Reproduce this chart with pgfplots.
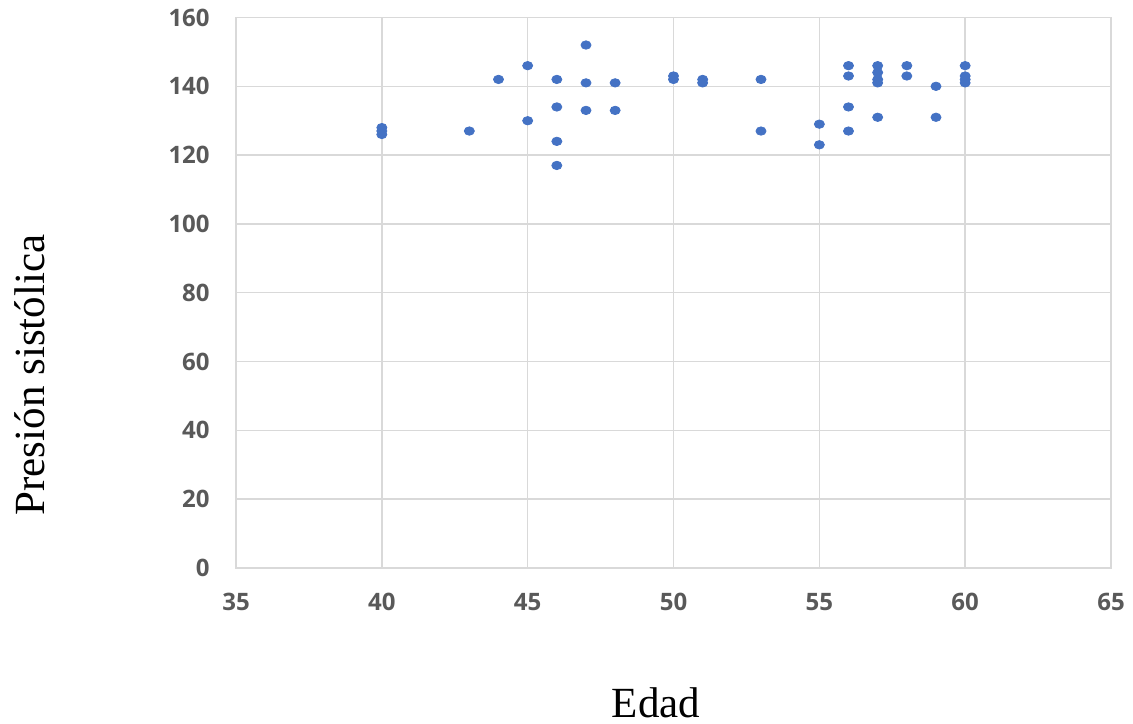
\documentclass[border=0pt]{standalone}
\usepackage{pgfplots}
\pgfplotsset{compat=1.18}
\usepackage{fontspec}
\setmainfont{Liberation Serif}
\newfontfamily\tickfont{Open Sans}
\definecolor{ptblue}{HTML}{4472C4}
\definecolor{gridgray}{HTML}{D9D9D9}
\definecolor{ticktext}{HTML}{595959}
\begin{document}
\begin{tikzpicture}
\useasboundingbox (-118pt,-77.5pt) rectangle (448.5pt,284pt);
\begin{axis}[
  scale only axis,
  width=437.5pt, height=275.25pt,
  xmin=35, xmax=65, ymin=0, ymax=160,
  xtick={35,40,...,65}, ytick={0,20,...,160},
  grid=major,
  major grid style={gridgray, line width=0.7pt},
  axis line style={gridgray, line width=0.7pt},
  major tick length=0pt,
  /pgf/number format/assume math mode=true,
  ticklabel style={font=\tickfont\bfseries\fontsize{12}{12}\selectfont, text=ticktext, inner sep=0pt},
  xticklabel style={anchor=north, yshift=-12.5pt},
  yticklabel style={anchor=east, xshift=-13pt},
  xlabel={Edad},
  ylabel={Presión sistólica},
  xlabel style={at={(axis description cs:0.48,-0.2707)}, anchor=base, font=\fontsize{21.5}{24}\selectfont, inner sep=0pt},
  ylabel style={at={(axis description cs:-0.2354,0.3506)}, anchor=center, font=\fontsize{21.5}{24}\selectfont, inner sep=0pt},
]
\addplot[only marks, mark=*, mark size=2.1pt, mark options={ptblue, xscale=1.2}] coordinates {
  (40,126) (40,127) (40,128)
  (43,127)
  (44,142)
  (45,146) (45,130)
  (46,142) (46,134) (46,124) (46,117)
  (47,152) (47,141) (47,133)
  (48,141) (48,133)
  (50,143) (50,142)
  (51,142) (51,141)
  (53,142) (53,127)
  (55,129) (55,123)
  (56,146) (56,143) (56,134) (56,127)
  (57,146) (57,144) (57,142) (57,141) (57,131)
  (58,146) (58,143)
  (59,140) (59,131)
  (60,146) (60,143) (60,142) (60,141)
};
\end{axis}
\end{tikzpicture}
\end{document}
